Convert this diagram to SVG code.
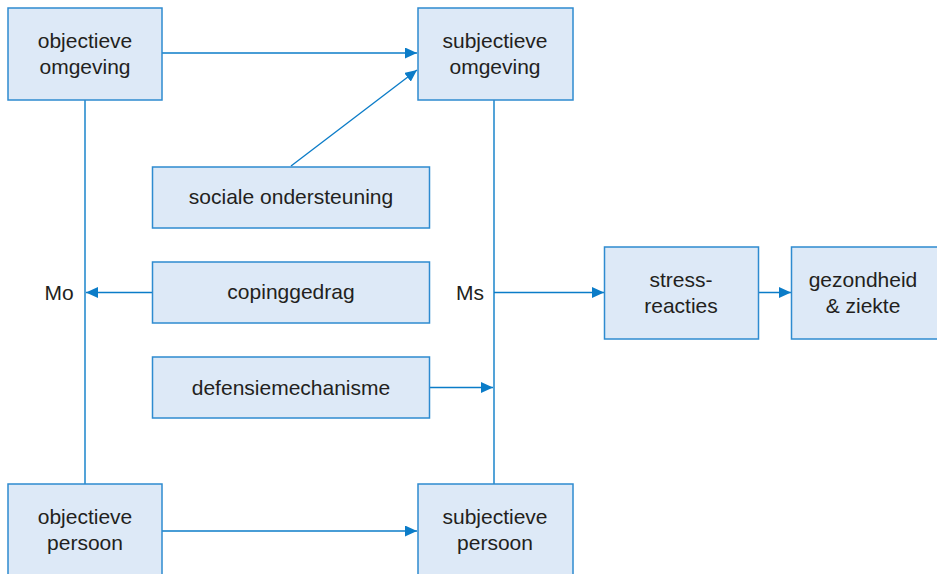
<svg xmlns="http://www.w3.org/2000/svg" width="937" height="574" viewBox="0 0 937 574">
<defs>
<style>
.box{fill:#dde9f7;stroke:#2e8bd0;stroke-width:1.5}
.t{font-family:"Liberation Sans",Arial,sans-serif;font-size:21px;fill:#231f20;text-anchor:middle}
.c{stroke:#0b7cc8;stroke-width:1.4;fill:none}
</style>
<marker id="ah" viewBox="0 0 12 11" refX="12" refY="5.5" markerWidth="12" markerHeight="11" markerUnits="userSpaceOnUse" orient="auto">
<path d="M0,0 L12,5.5 L0,11 Z" fill="#0b7cc8"/>
</marker>
</defs>
<rect width="937" height="574" fill="#fff"/>
<g id="connectors">
<line class="c" x1="85" y1="100" x2="85" y2="484"/>
<line class="c" x1="494" y1="100" x2="494" y2="484"/>
<line class="c" x1="162" y1="53" x2="417" y2="53" marker-end="url(#ah)"/>
<line class="c" x1="291" y1="166" x2="417" y2="70" marker-end="url(#ah)"/>
<line class="c" x1="152" y1="292.5" x2="86" y2="292.5" marker-end="url(#ah)"/>
<line class="c" x1="430" y1="387.5" x2="493" y2="387.5" marker-end="url(#ah)"/>
<line class="c" x1="494" y1="292.5" x2="604" y2="292.5" marker-end="url(#ah)"/>
<line class="c" x1="758" y1="292.5" x2="791" y2="292.5" marker-end="url(#ah)"/>
<line class="c" x1="162" y1="531" x2="417" y2="531" marker-end="url(#ah)"/>
</g>
<g id="objectieve-omgeving">
<rect class="box" x="8" y="8" width="154" height="92"/>
<text class="t" x="85" y="48">objectieve</text>
<text class="t" x="85" y="74">omgeving</text>
</g>
<g id="subjectieve-omgeving">
<rect class="box" x="418" y="8" width="155" height="92"/>
<text class="t" x="495" y="48">subjectieve</text>
<text class="t" x="495" y="74">omgeving</text>
</g>
<g id="sociale-ondersteuning">
<rect class="box" x="152.5" y="167" width="277" height="61"/>
<text class="t" x="291" y="203.5">sociale ondersteuning</text>
</g>
<g id="copinggedrag">
<rect class="box" x="152.5" y="262" width="277" height="61"/>
<text class="t" x="291" y="298.5">copinggedrag</text>
</g>
<g id="defensiemechanisme">
<rect class="box" x="152.5" y="357" width="277" height="61"/>
<text class="t" x="291" y="394.5">defensiemechanisme</text>
</g>
<g id="Mo"><text class="t" x="59" y="299.5">Mo</text></g>
<g id="Ms"><text class="t" x="470" y="299.5">Ms</text></g>
<g id="stress-reacties">
<rect class="box" x="604.5" y="247" width="154" height="92"/>
<text class="t" x="681" y="287">stress-</text>
<text class="t" x="681" y="313">reacties</text>
</g>
<g id="gezondheid-ziekte">
<rect class="box" x="791.5" y="247" width="154" height="92"/>
<text class="t" x="863" y="287">gezondheid</text>
<text class="t" x="863" y="313">&amp; ziekte</text>
</g>
<g id="objectieve-persoon">
<rect class="box" x="8" y="484" width="154" height="94"/>
<text class="t" x="85" y="524">objectieve</text>
<text class="t" x="85" y="550">persoon</text>
</g>
<g id="subjectieve-persoon">
<rect class="box" x="418" y="484" width="155" height="94"/>
<text class="t" x="495" y="524">subjectieve</text>
<text class="t" x="495" y="550">persoon</text>
</g>
</svg>
